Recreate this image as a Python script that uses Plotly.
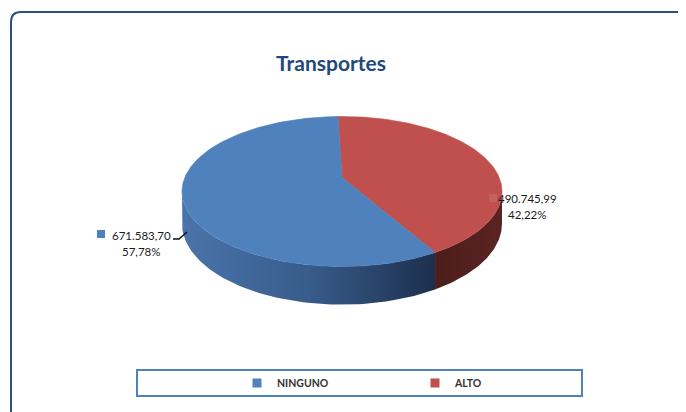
import numpy as np
import plotly.graph_objects as go

# ---------------- data ----------------
categories = ["NINGUNO", "ALTO"]
values = [671583.70, 490745.99]
top_colors = ["#4f81bd", "#c0504d"]
title_text = "Transportes"

total = sum(values)
shares = [v / total for v in values]


def fmt_num(v):
    s = f"{v:,.2f}"
    return s.replace(",", "X").replace(".", ",").replace("X", ".")


def fmt_pct(s):
    return f"{s * 100:.2f}%".replace(".", ",")


# page body has an 8px margin: figure covers window pixels 8..686 / 8..412
OFF = 8
W, H = 686 - OFF, 412 - OFF


def px(xw):
    return (xw - OFF) / W


def py(yw):
    return 1 - (yw - OFF) / H


# ---------------- 3D pie geometry (window pixel space) ----------------
CX, CY = 342.0, 177.5
P = 0.1867
S = 72.4
RX = 157.2
DEPTH = 31.0
START = -1.73


def rim(theta_deg, drop=0.0):
    t = np.radians(theta_deg)
    w = 1 + P * np.cos(t)
    x = CX + RX * np.sin(t) / w
    y = CY - S * np.cos(t) / w + drop / w
    return x, y


order = [1, 0]
angles = {}
a = START
for i in order:
    b = a + 360 * shares[i]
    angles[i] = (a, b)
    a = b

t_tan = np.degrees(np.arccos(-P))
vis_lo, vis_hi = t_tan, 360 - t_tan

side_styles = {
    0: dict(type="horizontal", colorscale=[[0, "#4a74aa"], [0.5, "#385c8b"], [1, "#1d2f4d"]]),
    1: dict(type="horizontal", colorscale=[[0, "#4c1d1c"], [1, "#5a2422"]]),
}

fig = go.Figure()

for i in order:
    a, b = angles[i]
    lo, hi = max(a, vis_lo), min(b, vis_hi)
    if hi <= lo:
        continue
    th = np.linspace(lo, hi, 80)
    xt, yt = rim(th)
    xb, yb = rim(th[::-1], DEPTH)
    xs = np.concatenate([xt, xb])
    ys = np.concatenate([yt, yb])
    fg = dict(side_styles[i])
    fg["start"] = float(xs.min())
    fg["stop"] = float(xs.max())
    fig.add_trace(go.Scatter(
        x=xs, y=ys, mode="lines", fill="toself",
        line=dict(width=0), fillgradient=fg,
        hoverinfo="skip", showlegend=False))

for i in order:
    a, b = angles[i]
    th = np.linspace(a, b, 200)
    xr, yr = rim(th)
    xs = np.concatenate([[CX], xr, [CX]])
    ys = np.concatenate([[CY], yr, [CY]])
    fig.add_trace(go.Scatter(
        x=xs, y=ys, mode="lines", fill="toself",
        fillcolor=top_colors[i], line=dict(width=0.6, color=top_colors[i]),
        hoverinfo="skip", showlegend=False))

for i in range(len(categories)):
    fig.add_trace(go.Scatter(
        x=[None], y=[None], mode="markers", name=categories[i],
        marker=dict(symbol="square", size=9, color=top_colors[i])))

FONT = "Lato"
LBL = dict(family=FONT, size=11.5, color="#1a1a1a")
annotations = [
    dict(x=141, y=235, text=fmt_num(values[0])),
    dict(x=141, y=251, text=fmt_pct(shares[0])),
    dict(x=527, y=198, text=fmt_num(values[1])),
    dict(x=527, y=214, text=fmt_pct(shares[1])),
]
for an in annotations:
    an.update(xref="x", yref="y", showarrow=False, font=LBL)

shapes = [
    dict(type="path", xref="x", yref="y",
         path="M 11,420 L 11,22 Q 11,12 21,12 L 700,12",
         line=dict(color="#2b4f7e", width=2)),
    dict(type="rect", xref="x", yref="y", x0=137, y0=370, x1=582, y1=396,
         line=dict(color="#4f81bd", width=2), fillcolor="rgba(0,0,0,0)"),
    dict(type="rect", xref="x", yref="y", x0=97, y0=230, x1=105, y1=238,
         line=dict(width=0), fillcolor=top_colors[0]),
    dict(type="rect", xref="x", yref="y", x0=489, y0=194, x1=497, y1=202,
         line=dict(width=0), fillcolor="#c4605d"),
    dict(type="path", xref="x", yref="y", path="M 173,239 L 179,239 L 187,232",
         line=dict(color="#111111", width=1.5)),
]

fig.update_layout(
    width=W, height=H,
    margin=dict(l=0, r=0, t=0, b=0),
    paper_bgcolor="white", plot_bgcolor="white",
    xaxis=dict(range=[OFF, 686], visible=False, fixedrange=True),
    yaxis=dict(range=[412, OFF], visible=False, fixedrange=True),
    title=dict(text=f"<b>{title_text}</b>", x=px(331), xanchor="center",
               xref="paper", y=py(64), yref="container", yanchor="middle",
               font=dict(family=FONT, size=21, color="#1f497d")),
    legend=dict(orientation="h", x=px(237), xanchor="left",
                y=py(383), yanchor="middle", bgcolor="rgba(0,0,0,0)",
                entrywidth=133, itemwidth=30,
                font=dict(family=FONT, size=10.5, color="#333333", weight="bold")),
    annotations=annotations,
    shapes=shapes,
    showlegend=True,
)

fig.write_html("out.html")
